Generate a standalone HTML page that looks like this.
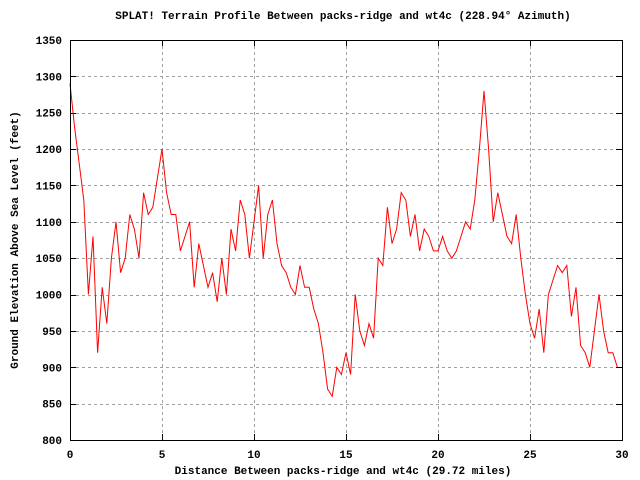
<!DOCTYPE html>
<html><head><meta charset="utf-8"><style>
body{margin:0;background:#fff}
svg{display:block;font-family:"Liberation Mono",monospace;font-size:11px;font-weight:bold}
</style></head><body>
<svg id="chart" width="640" height="480" viewBox="0 0 640 480" xmlns="http://www.w3.org/2000/svg">
<rect width="640" height="480" fill="#fff"/>
<text x="343" y="19" text-anchor="middle">SPLAT! Terrain Profile Between packs-ridge and wt4c (228.94° Azimuth)</text>
<text transform="translate(18,240) rotate(-90)" text-anchor="middle">Ground Elevation Above Sea Level (feet)</text>
<text x="343" y="474" text-anchor="middle">Distance Between packs-ridge and wt4c (29.72 miles)</text>
<g id="grid"></g><g id="ticks"></g>
<polyline id="profile" fill="none" stroke="#ff0000" stroke-width="1"/>
<rect x="70.5" y="40.5" width="552" height="400" fill="none" stroke="#000" stroke-width="1"/>
</svg>
<script>
const xTicks=[0,5,10,15,20,25,30];
const yTicks=[800,850,900,950,1000,1050,1100,1150,1200,1250,1300,1350];
const stepMiles=0.25;
const elevations=[1290,1230,1180,1130,1000,1080,920,1010,960,1050,1100,1030,1050,1110,1090,1050,1140,1110,1120,1160,1200,1140,1110,1110,1060,1080,1100,1010,1070,1040,1010,1030,990,1050,1000,1090,1060,1130,1110,1050,1100,1150,1050,1110,1130,1070,1040,1030,1010,1000,1040,1010,1010,980,960,920,870,860,900,890,920,890,1000,950,930,960,940,1050,1040,1120,1070,1090,1140,1130,1080,1110,1060,1090,1080,1060,1060,1080,1060,1050,1060,1080,1100,1090,1130,1200,1280,1200,1100,1140,1110,1080,1070,1110,1050,1000,960,940,980,920,1000,1020,1040,1030,1040,970,1010,930,920,900,950,1000,950,920,920,900];
const X0=70,X1=622,Y0=440,Y1=40;
const sx=v=>X0+(v-0)/(30-0)*(X1-X0);
const sy=v=>Y0-(v-800)/(1350-800)*(Y0-Y1);
const NS="http://www.w3.org/2000/svg";
const grid=document.getElementById('grid'),ticks=document.getElementById('ticks');
function mk(tag,attrs,parent){const e=document.createElementNS(NS,tag);for(const k in attrs)e.setAttribute(k,attrs[k]);parent.appendChild(e);return e;}
xTicks.forEach(t=>{const x=Math.round(sx(t))+0.5;
 if(t>0&&t<30){const g=mk('line',{x1:x,x2:x,y1:Y1,y2:Y0,stroke:'#a0a0a0','stroke-dasharray':'3,3'},grid);
 
 }
 mk('line',{x1:x,x2:x,y1:Y0,y2:Y0-6,stroke:'#000'},ticks);
 mk('line',{x1:x,x2:x,y1:Y1,y2:Y1+6,stroke:'#000'},ticks);
 const l=mk('text',{x:sx(t),y:458,'text-anchor':'middle'},ticks);l.textContent=t;
 
 });
yTicks.forEach(t=>{const y=Math.round(sy(t))+0.5;
 if(t>800&&t<1350){const g=mk('line',{x1:X0,x2:X1,y1:y,y2:y,stroke:'#a0a0a0','stroke-dasharray':'3,3'},grid);
 
 }
 mk('line',{x1:X0,x2:X0+6,y1:y,y2:y,stroke:'#000'},ticks);
 mk('line',{x1:X1,x2:X1-6,y1:y,y2:y,stroke:'#000'},ticks);
 const l=mk('text',{x:62,y:sy(t)+4,'text-anchor':'end'},ticks);l.textContent=t;
 
 });
document.getElementById('profile').setAttribute('points',elevations.map((e,i)=>sx(i*stepMiles).toFixed(1)+','+sy(e).toFixed(1)).join(' '));
</script>
</body></html>
